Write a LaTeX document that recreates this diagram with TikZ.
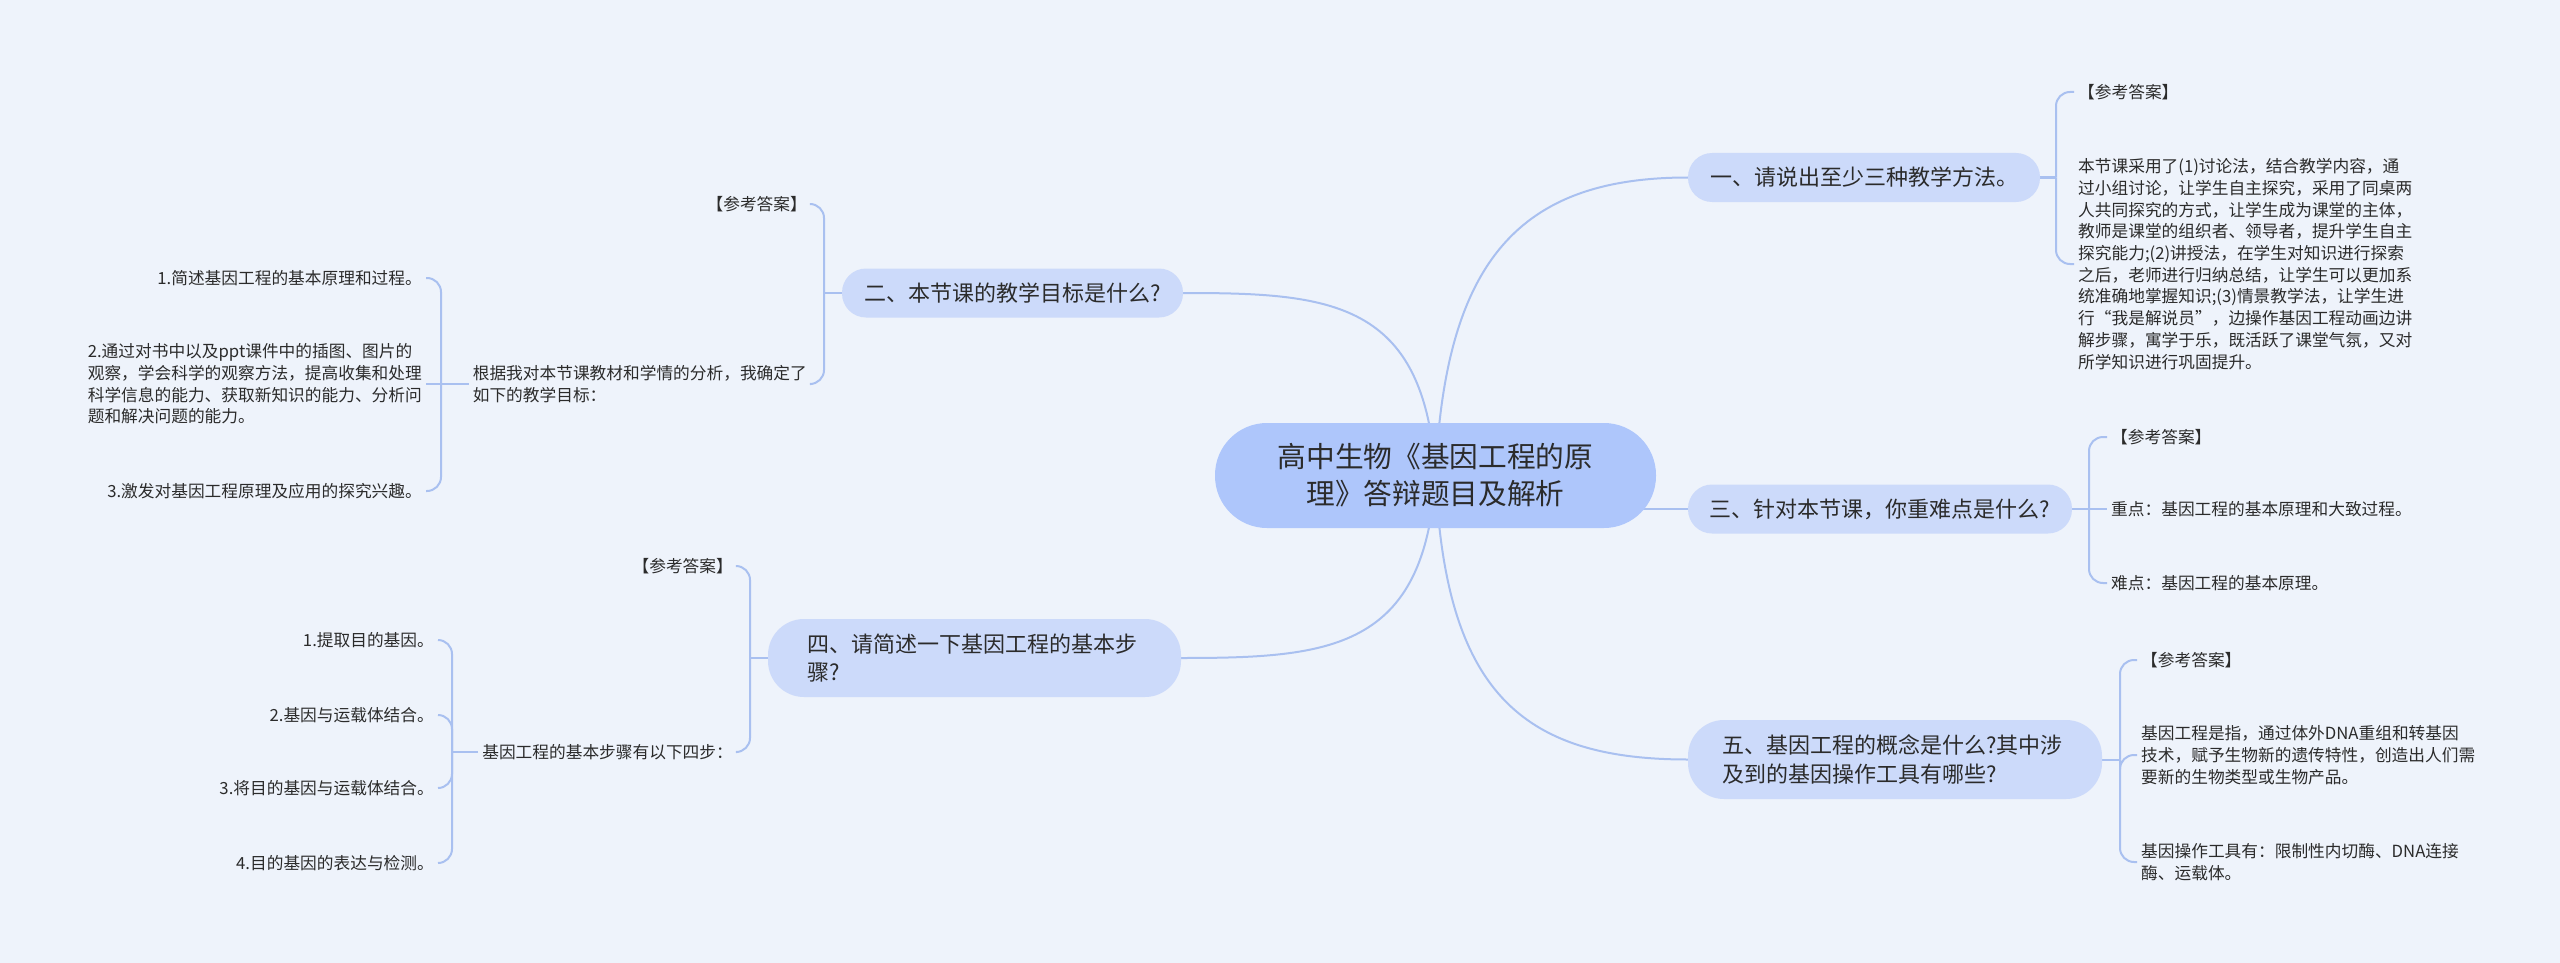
\documentclass[tikz,border=0pt]{standalone}
\usepackage{fontspec}
\setmainfont{Noto Sans CJK SC}
\usetikzlibrary{backgrounds}
\definecolor{bg}{HTML}{EEF3FB}
\definecolor{rootfill}{HTML}{AEC6FB}
\definecolor{subfill}{HTML}{CCDAFA}
\definecolor{linec}{HTML}{A9C0F0}
\definecolor{txt}{HTML}{2B2B2B}
\begin{document}
\begin{tikzpicture}[x=1pt,y=-1pt,
  root/.style={fill=rootfill, rounded corners=52pt, minimum width=441pt, minimum height=105pt, align=center, font=\fontsize{28.7}{37}\selectfont, text=txt, inner sep=0pt},
  sub/.style={fill=subfill, rounded corners=24pt, minimum height=49pt, font=\fontsize{22}{28.5}\selectfont, text=txt, inner sep=0pt},
  leaf/.style={font=\fontsize{16.7}{21.7}\selectfont, text=txt, align=left, inner sep=4pt},
  conn/.style={draw=linec, line width=2pt},
  brk/.style={draw=linec, line width=2pt, rounded corners=14pt}
]
\useasboundingbox (0,0) rectangle (2560,963);

% root
\node[root] (c) at (1435.5,475.5) {高中生物《基因工程的原\\理》答辩题目及解析};

% main topics
\node[sub, minimum width=352pt] (q1) at (1864,177.5) {一、请说出至少三种教学方法。};
\node[sub, minimum width=341pt] (q2) at (1012.5,293) {二、本节课的教学目标是什么?};
\node[sub, minimum width=384pt] (q3) at (1880,509) {三、针对本节课，你重难点是什么?};
\node[sub, minimum width=413pt, minimum height=78pt, rounded corners=36pt, align=left, text width=335pt] (q4) at (974.5,658) {四、请简述一下基因工程的基本步\\骤?};
\node[sub, minimum width=414pt, minimum height=79pt, rounded corners=36pt, align=left, text width=345pt] (q5) at (1895,759.5) {五、基因工程的概念是什么?其中涉\\及到的基因操作工具有哪些?};

% branch 1
\coordinate (j1) at (2056,177.5);
\node[leaf, anchor=west] (a11) at (2074,92) {【参考答案】};
\node[leaf, anchor=west] (a12) at (2074,264) {本节课采用了(1)讨论法，结合教学内容，通\\过小组讨论，让学生自主探究，采用了同桌两\\人共同探究的方式，让学生成为课堂的主体，\\教师是课堂的组织者、领导者，提升学生自主\\探究能力;(2)讲授法，在学生对知识进行探索\\之后，老师进行归纳总结，让学生可以更加系\\统准确地掌握知识;(3)情景教学法，让学生进\\行“我是解说员”，边操作基因工程动画边讲\\解步骤，寓学于乐，既活跃了课堂气氛，又对\\所学知识进行巩固提升。};

% branch 3
\coordinate (j3) at (2089,509);
\node[leaf, anchor=west] (a31) at (2107,437) {【参考答案】};
\node[leaf, anchor=west] (a32) at (2107,509) {重点：基因工程的基本原理和大致过程。};
\node[leaf, anchor=west] (a33) at (2107,583) {难点：基因工程的基本原理。};

% branch 5
\coordinate (j5) at (2120,759.5);
\node[leaf, anchor=west] (a51) at (2137,660) {【参考答案】};
\node[leaf, anchor=west] (a52) at (2137,755) {基因工程是指，通过体外DNA重组和转基因\\技术，赋予生物新的遗传特性，创造出人们需\\要新的生物类型或生物产品。};
\node[leaf, anchor=west] (a53) at (2137,862) {基因操作工具有：限制性内切酶、DNA连接\\酶、运载体。};

% branch 2
\coordinate (j2) at (824,293);
\node[leaf, anchor=east] (a21) at (811,204) {【参考答案】};
\node[leaf, anchor=east] (a22) at (811,384) {根据我对本节课教材和学情的分析，我确定了\\如下的教学目标：};
\coordinate (j22) at (441,384);
\node[leaf, anchor=east] (b1) at (426,278) {1.简述基因工程的基本原理和过程。};
\node[leaf, anchor=east] (b2) at (426,384) {2.通过对书中以及ppt课件中的插图、图片的\\观察，学会科学的观察方法，提高收集和处理\\科学信息的能力、获取新知识的能力、分析问\\题和解决问题的能力。};
\node[leaf, anchor=east] (b3) at (426,491) {3.激发对基因工程原理及应用的探究兴趣。};

% branch 4
\coordinate (j4) at (750,658);
\node[leaf, anchor=east] (a41) at (737,566) {【参考答案】};
\node[leaf, anchor=east] (a42) at (737,752) {基因工程的基本步骤有以下四步：};
\coordinate (j42) at (452,752);
\node[leaf, anchor=east] (s1) at (438,640) {1.提取目的基因。};
\node[leaf, anchor=east] (s2) at (438,715) {2.基因与运载体结合。};
\node[leaf, anchor=east] (s3) at (438,788) {3.将目的基因与运载体结合。};
\node[leaf, anchor=east] (s4) at (438,863) {4.目的基因的表达与检测。};

\begin{pgfonlayer}{background}
\fill[bg] (0,0) rectangle (2560,963);
% root connectors
\draw[conn] (c.center) .. controls (1445,260) and (1520,177.5) .. (q1.west);
\draw[conn] (c.center) .. controls (1425,300) and (1330,293) .. (q2.east);
\draw[conn] (c.center |- q3.west) -- (q3.west);
\draw[conn] (c.center) .. controls (1425,650) and (1330,658) .. (q4.east);
\draw[conn] (c.center) .. controls (1445,690) and (1520,759.5) .. (q5.west);
% branch 1
\draw[conn] (q1.east) -- (j1);
\draw[brk] (j1) |- (a11.west);
\draw[brk] (j1) |- (a12.west);
% branch 3
\draw[conn] (q3.east) -- (j3);
\draw[brk] (j3) |- (a31.west);
\draw[conn] (j3) -- (a32.west);
\draw[brk] (j3) |- (a33.west);
% branch 5
\draw[conn] (q5.east) -- (j5);
\draw[brk] (j5) |- (a51.west);
\draw[brk] (j5) |- (a52.west);
\draw[brk] (j5) |- (a53.west);
% branch 2
\draw[conn] (q2.west) -- (j2);
\draw[brk] (j2) |- (a21.east);
\draw[brk] (j2) |- (a22.east);
\draw[conn] (a22.west) -- (j22);
\draw[brk] (j22) |- (b1.east);
\draw[conn] (j22) -- (b2.east);
\draw[brk] (j22) |- (b3.east);
% branch 4
\draw[conn] (q4.west) -- (j4);
\draw[brk] (j4) |- (a41.east);
\draw[brk] (j4) |- (a42.east);
\draw[conn] (a42.west) -- (j42);
\draw[brk] (j42) |- (s1.east);
\draw[brk] (j42) |- (s2.east);
\draw[brk] (j42) |- (s3.east);
\draw[brk] (j42) |- (s4.east);
\end{pgfonlayer}
\end{tikzpicture}
\end{document}
